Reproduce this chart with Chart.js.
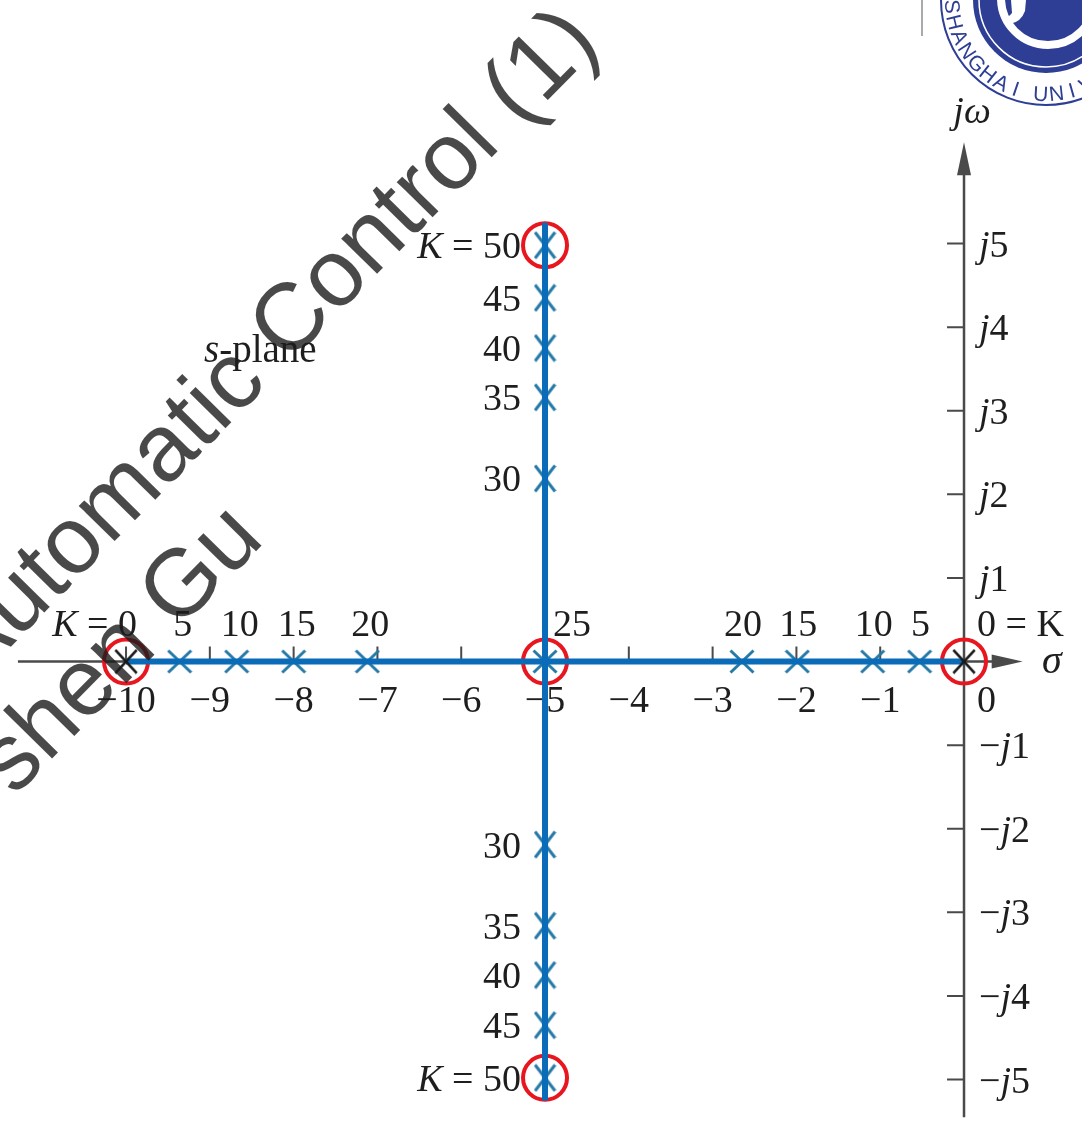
<!DOCTYPE html>
<html>
<head>
<meta charset="utf-8">
<title>Root locus, s-plane</title>
<script src="https://cdn.jsdelivr.net/npm/chart.js@4.4.1/dist/chart.umd.min.js"></script>
<style>
  html, body { margin: 0; padding: 0; background: #fff; }
  canvas { display: block; }
</style>
</head>
<body>
<canvas id="locus" width="1082" height="1124"></canvas>
<script>
// closed-loop roots for each gain K
const realGains = [5, 10, 15, 20];
const leftRoots = [-9.36, -8.68, -8.0, -7.12];
const rightRoots = [-0.53, -1.09, -1.99, -2.65];
const breakawayGain = 25;
const breakawayPoint = -5;
const complexGains = [30, 35, 40, 45, 50];
const imagParts = [2.19, 3.16, 3.75, 4.35, 4.98];
const openLoopPoles = [-10, 0];

// locus branches
const realSegment = [-10, 0];
const imagSegment = [5.25, -5.25];

// axis ticks
const sigmaTicks = [-10, -9, -8, -7, -6, -5, -4, -3, -2, -1];
const sigmaTickLabels = ['−10', '−9', '−8', '−7', '−6', '−5', '−4', '−3', '−2', '−1'];
const omegaTicks = [5, 4, 3, 2, 1, -1, -2, -3, -4, -5];
const omegaTickLabels = ['_j_5', '_j_4', '_j_3', '_j_2', '_j_1', '−_j_1', '−_j_2', '−_j_3', '−_j_4', '−_j_5'];

// visible window and drawn axis extents (data units)
const VIEW_X = [-11.504, 1.408];
const VIEW_Y = [-5.532, 7.913];
const SIGMA_AXIS = [-11.29, 0.70];
const OMEGA_AXIS = [-5.45, 6.21];

const SERIF = '"Liberation Serif", "Times New Roman", serif';
const FS = 38;
const TEXT = '#1e1e1e';
const AXIS = '#4a4a4a';

// X-shaped point images
function makeX(w, h, color, lw) {
  const c = document.createElement('canvas');
  c.width = w; c.height = h;
  const g = c.getContext('2d');
  g.strokeStyle = color;
  g.lineWidth = lw;
  g.lineCap = 'butt';
  const p = lw / 2;
  g.beginPath();
  g.moveTo(p, p); g.lineTo(w - p, h - p);
  g.moveTo(w - p, p); g.lineTo(p, h - p);
  g.stroke();
  return c;
}
const xWide = makeX(26, 25, '#2479a6', 3);
const xTall = makeX(23, 29, '#2479a6', 3);
const xPole = makeX(24, 26, '#1a1a1a', 2.6);

// "_K_ = 50" -> K in italics
function drawRich(ctx, str, x, y, align, size) {
  const parts = str.split('_').map((t, i) => ({ t, it: i % 2 === 1 })).filter(p => p.t);
  const fonts = parts.map(p => (p.it ? 'italic ' : '') + size + 'px ' + SERIF);
  const widths = parts.map((p, i) => { ctx.font = fonts[i]; return ctx.measureText(p.t).width; });
  const total = widths.reduce((a, b) => a + b, 0);
  let cx = align === 'right' ? x - total : align === 'center' ? x - total / 2 : x;
  ctx.textAlign = 'left';
  ctx.textBaseline = 'alphabetic';
  parts.forEach((p, i) => {
    ctx.font = fonts[i];
    ctx.fillText(p.t, cx, y);
    cx += widths[i];
  });
}

const axesPlugin = {
  id: 'sPlaneAxes',
  beforeDatasetsDraw(chart) {
    const { ctx, scales: { x, y } } = chart;
    const x0 = x.getPixelForValue(0);
    const y0 = y.getPixelForValue(0);
    ctx.save();
    ctx.strokeStyle = AXIS;
    ctx.fillStyle = AXIS;
    ctx.lineWidth = 2.5;

    // sigma axis with arrow
    const sx0 = x.getPixelForValue(SIGMA_AXIS[0]);
    const sx1 = x.getPixelForValue(SIGMA_AXIS[1]);
    ctx.beginPath();
    ctx.moveTo(sx0, y0); ctx.lineTo(sx1 - 26, y0);
    ctx.stroke();
    ctx.beginPath();
    ctx.moveTo(sx1, y0); ctx.lineTo(sx1 - 31, y0 - 7); ctx.lineTo(sx1 - 31, y0 + 7);
    ctx.closePath(); ctx.fill();

    // j-omega axis with arrow
    const oy0 = y.getPixelForValue(OMEGA_AXIS[0]);
    const oy1 = y.getPixelForValue(OMEGA_AXIS[1]);
    ctx.beginPath();
    ctx.moveTo(x0, oy0); ctx.lineTo(x0, oy1 + 28);
    ctx.stroke();
    ctx.beginPath();
    ctx.moveTo(x0, oy1); ctx.lineTo(x0 - 7, oy1 + 33); ctx.lineTo(x0 + 7, oy1 + 33);
    ctx.closePath(); ctx.fill();

    // tick marks
    ctx.lineWidth = 2;
    ctx.beginPath();
    sigmaTicks.forEach(v => {
      const px = x.getPixelForValue(v);
      ctx.moveTo(px, y0); ctx.lineTo(px, y0 - 15);
    });
    omegaTicks.forEach(v => {
      const py = y.getPixelForValue(v);
      ctx.moveTo(x0, py); ctx.lineTo(x0 - 17, py);
    });
    ctx.stroke();

    // tick labels
    ctx.fillStyle = TEXT;
    sigmaTicks.forEach((v, i) => drawRich(ctx, sigmaTickLabels[i], x.getPixelForValue(v), y0 + 50, 'center', FS));
    drawRich(ctx, '0', x0 + 13, y0 + 50, 'left', FS);
    omegaTicks.forEach((v, i) => drawRich(ctx, omegaTickLabels[i], x0 + 15, y.getPixelForValue(v) + 13, 'left', FS));
    ctx.restore();
  },
  afterDatasetsDraw(chart) {
    const { ctx, scales: { x, y } } = chart;
    const y0 = y.getPixelForValue(0);
    const lab = y0 - 26;
    ctx.save();
    ctx.fillStyle = TEXT;

    // gains along the real axis
    drawRich(ctx, '_K_ = 0', x.getPixelForValue(openLoopPoles[0]) + 11, lab, 'right', FS);
    realGains.forEach((k, i) => {
      drawRich(ctx, String(k), x.getPixelForValue(leftRoots[i]) + 3, lab, 'center', FS);
      drawRich(ctx, String(k), x.getPixelForValue(rightRoots[i]) + 1, lab, 'center', FS);
    });
    drawRich(ctx, '0 = K', x.getPixelForValue(openLoopPoles[1]) + 13, lab, 'left', FS);
    drawRich(ctx, String(breakawayGain), x.getPixelForValue(breakawayPoint) + 8, lab, 'left', FS);

    // gains along the complex branches
    const bx = x.getPixelForValue(breakawayPoint) - 24;
    complexGains.forEach((k, i) => {
      const txt = k === 50 ? '_K_ = 50' : String(k);
      drawRich(ctx, txt, bx, y.getPixelForValue(imagParts[i]) + 13, 'right', FS);
      drawRich(ctx, txt, bx, y.getPixelForValue(-imagParts[i]) + 13, 'right', FS);
    });

    drawRich(ctx, '_s_-plane', 204, 362, 'left', 39);
    drawRich(ctx, '_jω_', x.getPixelForValue(0) + 8, 123, 'center', FS);
    drawRich(ctx, '_σ_', 1042, y0 + 11, 'left', 40);
    ctx.restore();
  },
  afterDraw(chart) {
    const { ctx } = chart;
    ctx.save();
    // watermark
    ctx.fillStyle = 'rgba(28,28,28,0.8)';
    ctx.font = '95px "Liberation Sans", Arial, sans-serif';
    ctx.textAlign = 'right';
    ctx.textBaseline = 'alphabetic';
    const ang = -45.5 * Math.PI / 180;
    ctx.save();
    ctx.translate(602, 45); ctx.rotate(ang);
    ctx.fillText('Automatic Control (1)', 0, 0);
    ctx.restore();
    ctx.save();
    ctx.translate(266, 541); ctx.rotate(ang);
    ctx.fillText('shen Gu', 0, 0);
    ctx.restore();

    // header divider and emblem
    ctx.strokeStyle = '#aaaaaa';
    ctx.lineWidth = 2;
    ctx.beginPath(); ctx.moveTo(922, 0); ctx.lineTo(922, 36); ctx.stroke();

    const cx = 1046, cy = 0, blue = '#2d3e94';
    ctx.strokeStyle = blue;
    ctx.lineWidth = 2;
    ctx.beginPath(); ctx.arc(cx, cy, 105, 0, Math.PI * 2); ctx.stroke();
    ctx.fillStyle = blue;
    ctx.beginPath(); ctx.arc(cx, cy, 73, 0, Math.PI * 2); ctx.fill();
    ctx.strokeStyle = '#ffffff';
    ctx.lineWidth = 1.5;
    ctx.beginPath(); ctx.arc(cx, cy, 67, 0, Math.PI * 2); ctx.stroke();
    ctx.lineWidth = 8;
    ctx.beginPath(); ctx.arc(cx + 2, cy - 2, 47, 0, Math.PI); ctx.stroke();
    ctx.fillStyle = '#ffffff';
    ctx.beginPath();
    ctx.moveTo(1011, 0); ctx.lineTo(1012, 13);
    ctx.quadraticCurveTo(1008, 18, 1002, 20);
    ctx.lineTo(1010, 24);
    ctx.quadraticCurveTo(1021, 22, 1025, 11);
    ctx.lineTo(1026, 0);
    ctx.closePath(); ctx.fill();

    ctx.fillStyle = blue;
    ctx.font = '21px "Liberation Sans", Arial, sans-serif';
    ctx.textAlign = 'center';
    const ring = 'SHANGHAI UNIVERSITY';
    let th = 176 * Math.PI / 180;
    for (const ch of ring) {
      ctx.save();
      ctx.translate(cx + 101 * Math.cos(th), cy + 101 * Math.sin(th));
      ctx.rotate(th - Math.PI / 2);
      ctx.fillText(ch, 0, 0);
      ctx.restore();
      th -= (ch === ' ' ? 6 : 9.6) * Math.PI / 180;
    }
    ctx.restore();
  }
};

const pts = (xs, ys) => xs.map((v, i) => ({ x: v, y: ys[i] }));

new Chart(document.getElementById('locus'), {
  type: 'scatter',
  data: {
    datasets: [
      {
        label: 'open-loop poles',
        data: pts(openLoopPoles, openLoopPoles.map(() => 0)),
        pointStyle: xPole,
        order: 0
      },
      {
        label: 'real branch',
        data: pts(realSegment, realSegment.map(() => 0)),
        showLine: true,
        borderColor: '#0a6bb8',
        borderWidth: 6,
        pointRadius: 0,
        order: 1
      },
      {
        label: 'complex branch',
        data: pts(imagSegment.map(() => breakawayPoint), imagSegment),
        showLine: true,
        borderColor: '#0a6bb8',
        borderWidth: 6,
        pointRadius: 0,
        order: 1
      },
      {
        label: 'highlighted roots',
        data: pts(
          [openLoopPoles[0], openLoopPoles[1], breakawayPoint, breakawayPoint, breakawayPoint],
          [0, 0, 0, imagParts[imagParts.length - 1], -imagParts[imagParts.length - 1]]
        ),
        pointStyle: 'circle',
        pointRadius: 22,
        borderWidth: 4,
        borderColor: '#e8161e',
        backgroundColor: 'rgba(0,0,0,0)',
        order: 2
      },
      {
        label: 'real roots',
        data: pts(leftRoots.concat(rightRoots, [breakawayPoint]), leftRoots.map(() => 0).concat(rightRoots.map(() => 0), [0])),
        pointStyle: xWide,
        order: 3
      },
      {
        label: 'complex roots',
        data: pts(imagParts.map(() => breakawayPoint).concat(imagParts.map(() => breakawayPoint)), imagParts.concat(imagParts.map(v => -v))),
        pointStyle: xTall,
        order: 3
      }
    ]
  },
  options: {
    responsive: false,
    devicePixelRatio: 1,
    animation: false,
    events: [],
    layout: { padding: 0, autoPadding: false },
    scales: {
      x: { type: 'linear', min: VIEW_X[0], max: VIEW_X[1], display: false },
      y: { type: 'linear', min: VIEW_Y[0], max: VIEW_Y[1], display: false }
    },
    plugins: { legend: { display: false }, tooltip: { enabled: false } }
  },
  plugins: [axesPlugin]
});
</script>
</body>
</html>
